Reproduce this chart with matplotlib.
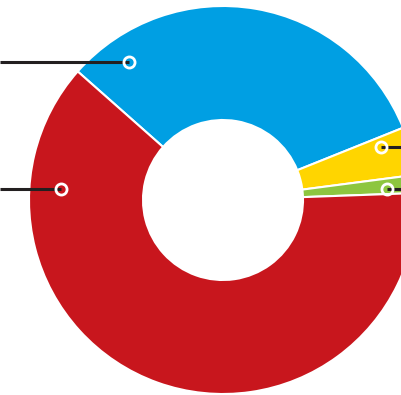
import numpy as np
import matplotlib
matplotlib.use("Agg")
import matplotlib.pyplot as plt

# share of each segment (%), clockwise from the blue one
labels = ["Blue", "Yellow", "Green", "Red"]
shares = [32.4, 4.0, 1.5, 62.1]
colors = ["#009fe3", "#ffd500", "#8dc63f", "#c8161d"]

# callout anchors: angle (deg), radius on the ring, side the leader goes to
callout_angles = [124.3, 18.5, 3.8, 176.1]
callout_radii = [167, 167, 164, 162]
callout_sides = ["left", "right", "right", "left"]

W, H = 401, 395
fig = plt.figure(figsize=(W / 100, H / 100), dpi=100)
ax = fig.add_axes([0, 0, 1, 1])

cx, cy = 223, H - 200
R = 194
hole = 80

ax.pie(shares, colors=colors, startangle=138.5, counterclock=False,
       radius=R, center=(cx, cy), frame=True,
       wedgeprops=dict(width=R - hole, edgecolor="white", linewidth=1.5))
ax.set_xlim(0, W)
ax.set_ylim(0, H)
ax.set_aspect("equal")
ax.axis("off")

for ang, r, side in zip(callout_angles, callout_radii, callout_sides):
    x = cx + r * np.cos(np.radians(ang))
    y = cy + r * np.sin(np.radians(ang))
    x_end = 0 if side == "left" else W
    ax.plot([x_end, x], [y, y], color="#231f20", lw=2.2, solid_capstyle="butt",
            zorder=5, clip_on=False)
    ax.plot(x, y, "o", ms=8, mfc="none", mec="white", mew=2, zorder=6)

fig.savefig("out.png", dpi=100)
